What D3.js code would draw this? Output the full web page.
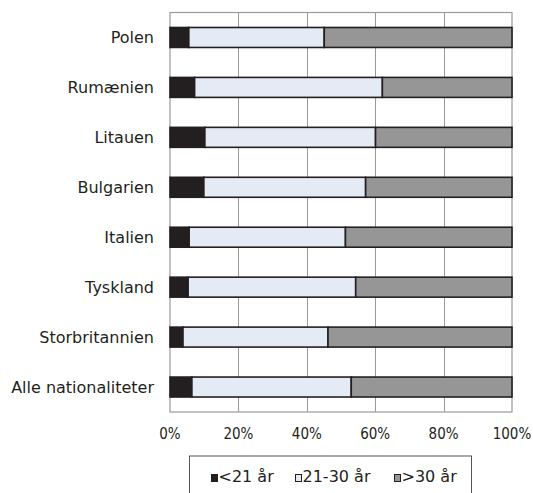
<!DOCTYPE html>
<html><head><meta charset="utf-8">
<script src="https://cdn.jsdelivr.net/npm/d3@7"></script>
<style>body{margin:0;background:#fff}svg{display:block}</style>
</head><body>
<svg id="c" width="533" height="493"></svg>
<script>
const categories = ["Polen","Rumænien","Litauen","Bulgarien","Italien","Tyskland","Storbritannien","Alle nationaliteter"];
const under21 = [5.5, 7.2, 10.2, 9.9, 5.6, 5.3, 3.8, 6.4];
const age21to30 = [39.6, 54.9, 49.9, 47.3, 45.7, 49.0, 42.4, 46.6];
const over30 = [54.9, 37.9, 39.9, 42.8, 48.7, 45.7, 53.8, 47.0];
const seriesNames = ["<21 år","21-30 år",">30 år"];
const seriesColors = ["#231f20","#e4ebf4","#969696"];
const xTicks = [0,20,40,60,80,100];

const svg = d3.select("#c");
const font = "'DejaVu Sans', sans-serif";
const fontCond = "'DejaVu Sans Condensed', 'DejaVu Sans', sans-serif";
const m = {left:170, right:512, top:12.5, bottom:412};
const x = d3.scaleLinear().domain([0,100]).range([m.left, m.right]);
const y = d3.scaleBand().domain(categories).range([m.top, m.bottom]).paddingInner(0.6).paddingOuter(0.3);

// grid
svg.append("g").selectAll("line").data(xTicks.filter(t=>t>0&&t<100)).join("line")
  .attr("x1",d=>Math.round(x(d))+0.5).attr("x2",d=>Math.round(x(d))+0.5)
  .attr("y1",m.top).attr("y2",m.bottom)
  .attr("stroke","#333").attr("stroke-width",1).attr("stroke-dasharray","1,1");

// border
svg.append("rect").attr("x",m.left).attr("y",m.top).attr("width",m.right-m.left).attr("height",m.bottom-m.top)
  .attr("fill","none").attr("stroke","#9a9a9a").attr("stroke-width",1.2);

const table = categories.map((c,i)=>({cat:c, a:under21[i], b:age21to30[i], c2:over30[i]}));
const stack = d3.stack().keys(["a","b","c2"])(table);
svg.append("g").selectAll("g").data(stack).join("g")
  .attr("fill",(d,i)=>seriesColors[i])
  .selectAll("rect").data(d=>d).join("rect")
  .attr("x",d=>x(d[0])).attr("width",d=>x(d[1])-x(d[0]))
  .attr("y",d=>y(d.data.cat)).attr("height",y.bandwidth())
  .attr("stroke","#231f20").attr("stroke-width",1.6);

// y labels
svg.append("g").selectAll("text").data(categories).join("text")
  .attr("x",154).attr("y",d=>y(d)+y.bandwidth()/2).attr("dy","0.35em")
  .attr("text-anchor","end").attr("font-family",font).attr("font-size",16).attr("fill","#231f20")
  .text(d=>d);

// x axis labels
svg.append("g").selectAll("text").data(xTicks).join("text")
  .attr("x",d=>x(d)).attr("y",438.5).attr("text-anchor","middle")
  .attr("font-family",fontCond).attr("font-stretch","condensed").attr("font-size",15).attr("fill","#231f20")
  .text(d=>d+"%");

// legend
svg.append("rect").attr("x",189.5).attr("y",456).attr("width",282).attr("height",60)
  .attr("fill","none").attr("stroke","#555").attr("stroke-width",1);
const lx = [211, 295, 394];
const lg = svg.append("g").selectAll("g").data(seriesNames).join("g")
  .attr("transform",(d,i)=>`translate(${lx[i]},482)`);
lg.append("rect").attr("x",0.5).attr("y",-7.5).attr("width",6).attr("height",7)
  .attr("fill",(d,i)=>seriesColors[i]).attr("stroke","#231f20").attr("stroke-width",1);
lg.append("text").attr("x",7.5).attr("y",0).attr("font-family",font).attr("font-size",16).attr("fill","#231f20").text(d=>d);
</script>
</body></html>
